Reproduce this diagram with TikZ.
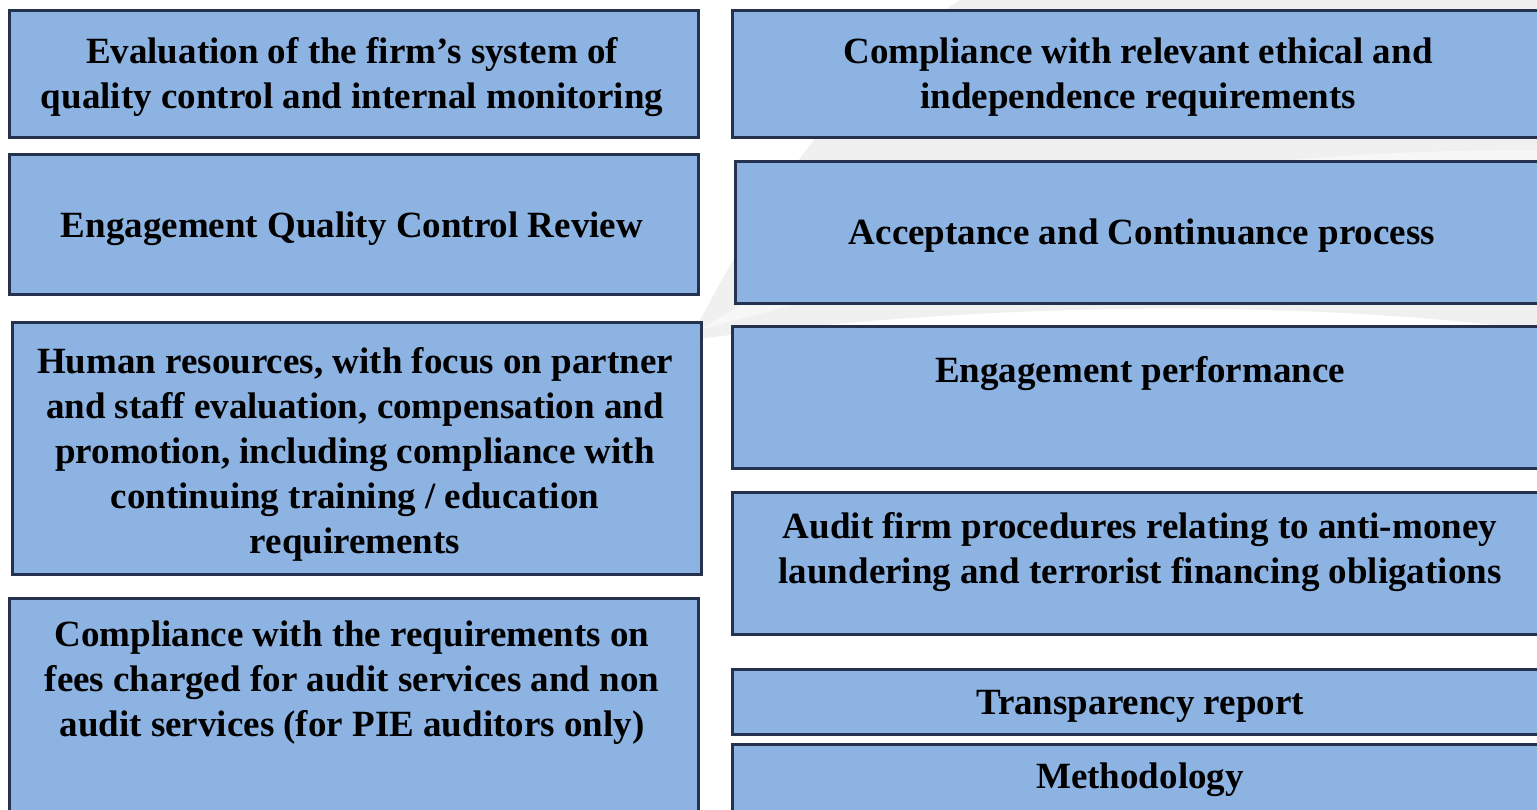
\documentclass[tikz,border=0pt]{standalone}
\usepackage{fontspec}
\setmainfont{Liberation Serif}[BoldFont={Liberation Serif Bold}]
\usetikzlibrary{positioning}

\definecolor{boxblue}{HTML}{8DB3E2}
\definecolor{boxline}{HTML}{24324F}
\definecolor{swoosh}{HTML}{F0F0F0}

\tikzset{
	box/.style={rectangle, draw=boxline, fill=boxblue, line width=1.25pt, inner sep=0pt, anchor=north west},
	txt/.style={align=center, inner sep=0pt, font=\fontsize{18.5}{22.5}\selectfont\bfseries}
}

\begin{document}
\begin{tikzpicture}[x=0.5pt,y=-0.5pt]
		\useasboundingbox (0,0) rectangle (1537,809);
		\clip (0,0) rectangle (1537,809);
		\fill[white] (0,0) rectangle (1537,809);
		
		% faint background swoosh, top right
		\fill[swoosh] (690,340) .. controls (760,200) and (860,60) .. (960,0) -- (1537,0) -- (1537,330) .. controls (1300,300) and (1000,300) .. (690,340);
		\fill[white, opacity=0.5] (700,330) .. controls (900,200) and (1200,150) .. (1537,150) -- (1537,200) .. controls (1200,210) and (950,260) .. (700,330);
		
		% left column
		\node[box, minimum width=344.5pt, minimum height=63.5pt] (eval) at (8,9) {};
		\node[box, minimum width=344.5pt, minimum height=70pt] (eqcr) at (8,153) {};
		\node[box, minimum width=344.5pt, minimum height=126pt] (hr) at (11,321) {};
		\node[box, minimum width=344.5pt, minimum height=120pt] (fees) at (8,597) {};
		
		% right column
		\node[box, minimum width=415pt, minimum height=63.5pt] (ethics) at (731,9) {};
		\node[box, minimum width=415pt, minimum height=71pt] (accept) at (734,160) {};
		\node[box, minimum width=415pt, minimum height=71pt] (perf) at (731,325) {};
		\node[box, minimum width=415pt, minimum height=71pt] (aml) at (731,491) {};
		\node[box, minimum width=415pt, minimum height=32.5pt] (transp) at (731,668) {};
		\node[box, minimum width=415pt, minimum height=45pt] (method) at (731,743) {};
		
		% labels
		\node[txt] (eval-t) at (352,77) {Evaluation of the firm’s system of\\quality control and internal monitoring};
		\node[txt] (eqcr-t) at (352,229) {Engagement Quality Control Review};
		\node[txt] (hr-t) at (355,454) {Human resources, with focus on partner\\and staff evaluation, compensation and\\promotion, including compliance with\\continuing training / education\\requirements};
		\node[txt] (fees-t) at (352,683) {Compliance with the requirements on\\fees charged for audit services and non\\audit services (for PIE auditors only)};
		
		\node[txt] (ethics-t) at (1138,77) {Compliance with relevant ethical and\\independence requirements};
		\node[txt] (accept-t) at (1142,236) {Acceptance and Continuance process};
		\node[txt] (perf-t) at (1140,374) {Engagement performance};
		\node[txt] (aml-t) at (1140,552) {Audit firm procedures relating to anti-money\\laundering and terrorist financing obligations};
		\node[txt] (transp-t) at (1140,706) {Transparency report};
		\node[txt] (method-t) at (1140,780) {Methodology};
		
\end{tikzpicture}
\end{document}
